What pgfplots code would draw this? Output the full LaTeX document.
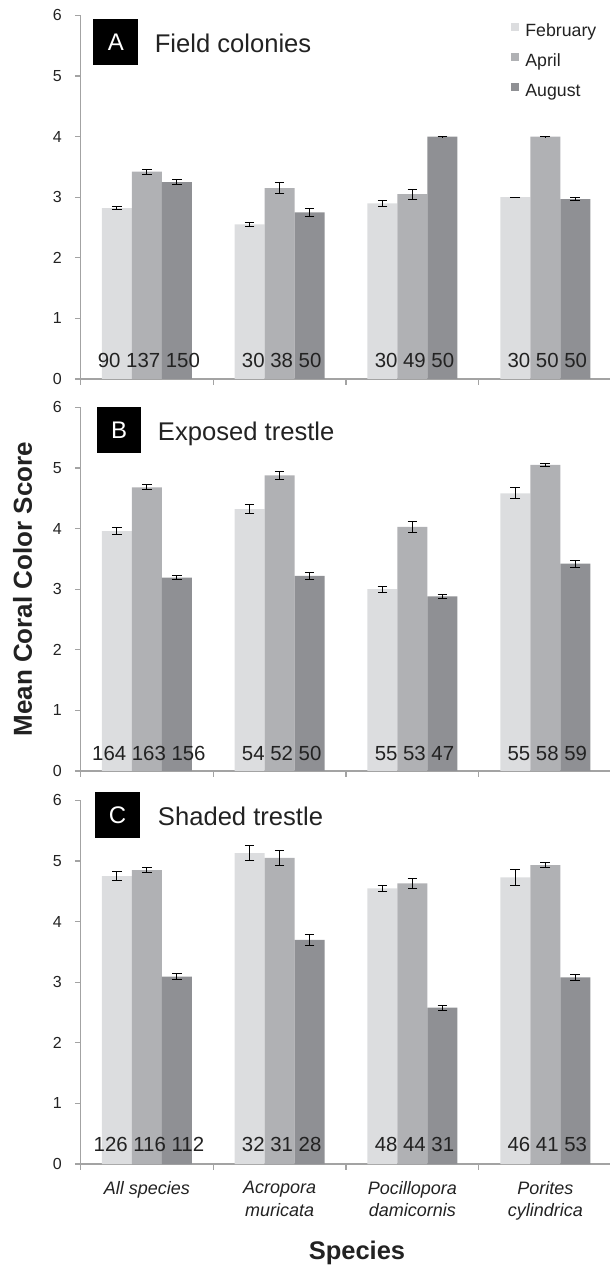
\documentclass[border=0pt]{standalone}
\usepackage{fontspec}
\setmainfont{Liberation Sans}
\usepackage{pgfplots}
\pgfplotsset{compat=1.18}
\definecolor{feb}{HTML}{DCDDDF}
\definecolor{apr}{HTML}{B0B1B4}
\definecolor{aug}{HTML}{8F9094}
\definecolor{axgray}{HTML}{A3A3A3}
\definecolor{txt}{HTML}{222222}
\pgfplotsset{
 panel/.style={
  scale only axis, width=265.6pt, height=181.8pt,
  xmin=-0.5, xmax=3.5, ymin=0, ymax=6,
  axis lines=left, axis line style={-, draw=axgray, line width=0.6pt},
  ytick={0,1,2,3,4,5,6}, xtick={-0.5,0.5,1.5,2.5,3.5}, xticklabels={},
  tick align=outside, major tick length=2.8pt,
  every tick/.style={draw=axgray, line width=0.6pt},
  yticklabel style={font=\fontsize{8}{9}\selectfont, text=txt, xshift=-3pt},
  /pgf/number format/assume math mode=true,
  clip=false,
 },
 bars/.style={ybar, bar width=15pt, bar shift=0pt, draw=none, fill=#1,
   legend image code/.code={\fill[##1] (0pt,0.15pt) rectangle (4pt,4.15pt);},
   error bars/y dir=both, error bars/y explicit,
   error bars/error bar style={black, line width=0.5pt},
   error bars/error mark options={black, rotate=90, mark size=2.4pt, line width=0.5pt}},
 counts/.style={ybar, bar width=0pt, bar shift=0pt, draw=none, fill=none, forget plot,
   point meta=explicit symbolic, nodes near coords,
   every node near coord/.append style={font=\fontsize{10.2}{12}\selectfont, inner sep=0pt, xshift=1pt, text=txt}},
}
\tikzset{
 tag/.style={fill=black, text=white, minimum width=22.35pt, minimum height=23pt, inner sep=0pt, font=\fontsize{12}{14}\selectfont},
 ttl/.style={anchor=base west, inner sep=0pt, font=\fontsize{12.8}{15}\selectfont, text=txt},
}
% bars of each group sit at category -0.2259, +0, +0.2259 (15pt at 66.4pt per category)
\begin{document}
\begin{tikzpicture}
\useasboundingbox (-40.25pt,-50.5pt) rectangle (264.75pt,582pt);
% Panel A
\begin{axis}[panel, at={(0pt,392.5pt)}, anchor=south west,
  legend style={at={(axis description cs:0.8105,0.979)}, anchor=north west, draw=none, fill=none,
    inner sep=0pt, column sep=3pt, row sep=6.6pt, font=\fontsize{8.85}{10}\selectfont,
    nodes={inner sep=0pt, text height=6.5pt, text depth=1.8pt, text=txt}},
  legend cell align=left]
\addplot[bars=feb] coordinates {(-0.2259,2.82) +- (0,0.02) (0.7741,2.55) +- (0,0.03) (1.7741,2.90) +- (0,0.05) (2.7741,3.00) +- (0,0.003)};
\addlegendentry{February}
\addplot[bars=apr] coordinates {(0,3.42) +- (0,0.04) (1,3.15) +- (0,0.09) (2,3.05) +- (0,0.08) (3,4.00) +- (0,0.003)};
\addlegendentry{April}
\addplot[bars=aug] coordinates {(0.2259,3.25) +- (0,0.04) (1.2259,2.75) +- (0,0.07) (2.2259,4.00) +- (0,0.003) (3.2259,2.97) +- (0,0.02)};
\addlegendentry{August}
\addplot[counts] coordinates {(0,0.177) [90 137 150] (1,0.177) [30 38 50] (2,0.177) [30 49 50] (3,0.177) [30 50 50]};
\node[tag] at (axis cs:-0.2345,5.563) {A};
\node[ttl] at (axis cs:0.0565,5.386) {Field colonies};
\end{axis}
% Panel B
\begin{axis}[panel, at={(0pt,196.5pt)}, anchor=south west,
  ylabel={Mean Coral Color Score},
  ylabel style={at={(axis description cs:-0.109,0.5)}, anchor=center, font=\fontsize{13}{15}\selectfont\bfseries, text=txt}]
\addplot[bars=feb] coordinates {(-0.2259,3.96) +- (0,0.06) (0.7741,4.32) +- (0,0.07) (1.7741,3.00) +- (0,0.05) (2.7741,4.58) +- (0,0.09)};
\addplot[bars=apr] coordinates {(0,4.68) +- (0,0.04) (1,4.88) +- (0,0.07) (2,4.03) +- (0,0.09) (3,5.05) +- (0,0.02)};
\addplot[bars=aug] coordinates {(0.2259,3.19) +- (0,0.03) (1.2259,3.22) +- (0,0.06) (2.2259,2.88) +- (0,0.03) (3.2259,3.42) +- (0,0.06)};
\addplot[counts] coordinates {(0,0.165) [164 163 156] (1,0.165) [54 52 50] (2,0.165) [55 53 47] (3,0.165) [55 58 59]};
\node[tag] at (axis cs:-0.21,5.626) {B};
\node[ttl] at (axis cs:0.0805,5.46) {Exposed trestle};
\end{axis}
% Panel C
\begin{axis}[panel, at={(0pt,0pt)}, anchor=south west,
  extra x ticks={0,1,2,3},
  extra x tick labels={All species,Acropora\\muricata,Pocillopora\\damicornis,Porites\\cylindrica},
  extra x tick style={major tick length=0pt, tick label style={align=center, font=\fontsize{9}{11.3}\selectfont\itshape, text=txt, yshift=-5pt}},
  xlabel={Species},
  xlabel style={at={(axis description cs:0.5205,-0.264)}, anchor=base, font=\fontsize{12.75}{15}\selectfont\bfseries, text=txt}]
\addplot[bars=feb] coordinates {(-0.2259,4.75) +- (0,0.07) (0.7741,5.13) +- (0,0.12) (1.7741,4.55) +- (0,0.05) (2.7741,4.73) +- (0,0.13)};
\addplot[bars=apr] coordinates {(0,4.85) +- (0,0.04) (1,5.05) +- (0,0.12) (2,4.63) +- (0,0.08) (3,4.93) +- (0,0.04)};
\addplot[bars=aug] coordinates {(0.2259,3.09) +- (0,0.05) (1.2259,3.70) +- (0,0.09) (2.2259,2.58) +- (0,0.04) (3.2259,3.08) +- (0,0.05)};
\addplot[counts] coordinates {(0,0.2) [126 116 112] (1,0.2) [32 31 28] (2,0.2) [48 44 31] (3,0.2) [46 41 53]};
\node[tag] at (axis cs:-0.2215,5.753) {C};
\node[ttl] at (axis cs:0.0805,5.588) {Shaded trestle};
\end{axis}
\end{tikzpicture}
\end{document}
